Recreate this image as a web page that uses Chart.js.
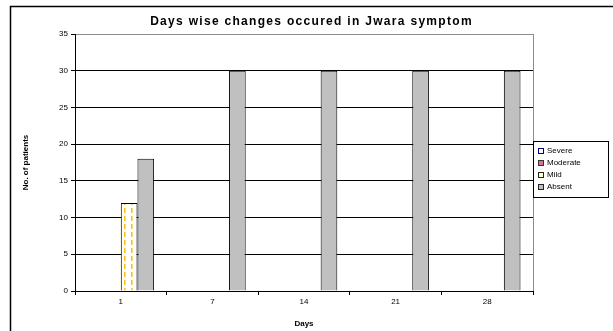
<!DOCTYPE html>
<html>
<head>
<meta charset="utf-8">
<script src="https://cdn.jsdelivr.net/npm/chart.js@4/dist/chart.umd.min.js"></script>
<style>
  html, body { margin: 0; padding: 0; background: #fff; }
  #wrap { width: 613px; height: 331px; }
</style>
</head>
<body>
<div id="wrap"><canvas id="barChart"></canvas></div>
<script>
// データ
var days = ["1", "7", "14", "21", "28"];
var severe = [0, 0, 0, 0, 0];
var moderate = [0, 0, 0, 0, 0];
var mild = [12, 0, 0, 0, 0];
var absent = [18, 30, 30, 30, 30];
var yTicks = [0, 5, 10, 15, 20, 25, 30, 35];

var FONT = "'Liberation Sans', Arial, sans-serif";

// Mild 用の黄色い破線パターン
function makeDashPattern() {
  var c = document.createElement("canvas");
  c.width = 7;
  c.height = 8;
  var g = c.getContext("2d");
  g.fillStyle = "#ffffff";
  g.fillRect(0, 0, 7, 8);
  g.fillStyle = "#f5c518";
  g.fillRect(5, 0, 1.6, 5);
  return g.createPattern(c, "repeat");
}

// 外枠・文字間隔・凡例のプラグイン
var framePlugin = {
  id: "frame",
  beforeInit: function (chart) {
    chart.ctx.letterSpacing = "0.8px";
  },
  afterLayout: function (chart) {
    // タイトルは外枠全体の中央に置く
    var tb = chart.titleBlock;
    if (tb) {
      tb.left = 10;
      tb.right = chart.width;
    }
  },
  beforeDraw: function (chart) {
    var ctx = chart.ctx;
    // タイトルだけ文字間隔を広げる
    var tb = chart.titleBlock;
    if (tb && !tb._wide) {
      var orig = tb.draw;
      tb.draw = function () {
        var old = ctx.letterSpacing;
        ctx.letterSpacing = "1.3px";
        orig.apply(this, arguments);
        ctx.letterSpacing = old;
      };
      tb._wide = true;
    }
    ctx.save();
    ctx.fillStyle = "#ffffff";
    ctx.fillRect(0, 0, chart.width, chart.height);
    ctx.strokeStyle = "#000000";
    ctx.lineWidth = 1.5;
    ctx.beginPath();
    ctx.moveTo(10.5, chart.height);
    ctx.lineTo(10.5, 6.5);
    ctx.lineTo(chart.width, 6.5);
    ctx.stroke();
    ctx.restore();
  },
  afterDraw: function (chart) {
    var ctx = chart.ctx;
    var a = chart.chartArea;
    ctx.save();
    // プロットエリアの右枠
    ctx.strokeStyle = "#8c8c8c";
    ctx.lineWidth = 1;
    ctx.beginPath();
    ctx.moveTo(Math.round(a.right) + 0.5, a.top);
    ctx.lineTo(Math.round(a.right) + 0.5, a.bottom);
    ctx.stroke();

    // 凡例
    var bx = 533.5, by = 141.5, bw = 75, bh = 56;
    ctx.strokeStyle = "#000000";
    ctx.strokeRect(bx, by, bw, bh);
    ctx.font = "8px " + FONT;
    ctx.textBaseline = "middle";
    ctx.textAlign = "left";
    chart.data.datasets.forEach(function (ds, i) {
      var y = 151 + i * 12;
      ctx.fillStyle = ds.legendFill;
      ctx.fillRect(538, y - 3, 6, 6);
      ctx.strokeStyle = ds.legendBorder;
      ctx.strokeRect(538.5, y - 2.5, 5, 5);
      ctx.fillStyle = "#000000";
      ctx.fillText(ds.label, 547, y);
    });
    ctx.restore();
  }
};

var ctx1 = document.getElementById("barChart");
var myChart = new Chart(ctx1, {
  type: "bar",
  data: {
    labels: days,
    datasets: [
      { label: "Severe", data: severe, backgroundColor: "#ffffff", borderColor: "#000000", borderWidth: 1,
        legendFill: "#ffffff", legendBorder: "#000080" },
      { label: "Moderate", data: moderate, backgroundColor: "#ff99cc", borderColor: "#000000", borderWidth: 1,
        legendFill: "#e07090", legendBorder: "#333333" },
      { label: "Mild", data: mild, backgroundColor: makeDashPattern(), borderColor: "#000000", borderWidth: 1,
        legendFill: "#ffffcc", legendBorder: "#222222" },
      { label: "Absent", data: absent, backgroundColor: "#c0c0c0", borderColor: "#000000", borderWidth: 1,
        legendFill: "#c0c0c0", legendBorder: "#222222" }
    ]
  },
  options: {
    responsive: true,
    maintainAspectRatio: false,
    animation: false,
    layout: { padding: { left: 10, right: 80, top: 0, bottom: 0 } },
    datasets: {
      bar: { categoryPercentage: 4 / 5.5, barPercentage: 1, borderSkipped: "start" }
    },
    plugins: {
      legend: { display: false },
      tooltip: { enabled: false },
      title: {
        display: true,
        text: "Days wise changes occured in Jwara symptom",
        color: "#000000",
        font: { family: FONT, size: 12, weight: "bold", lineHeight: 1 },
        padding: { top: 16, bottom: 6 }
      }
    },
    scales: {
      x: {
        afterFit: function (s) { s.height = 40; },
        grid: { drawOnChartArea: false, drawTicks: true, tickLength: 4, color: "#000000" },
        border: { color: "#000000", width: 1 },
        ticks: { color: "#000000", padding: 2, font: { family: FONT, size: 8 } },
        title: {
          display: true, text: "Days", color: "#000000",
          font: { family: FONT, size: 8, weight: "bold" },
          padding: { top: 0, bottom: 2 }
        }
      },
      y: {
        min: 0,
        max: 35,
        afterFit: function (s) { s.width = 65; },
        afterBuildTicks: function (s) { s.ticks = yTicks.map(function (v) { return { value: v }; }); },
        grid: {
          color: function (c) { return c.tick && c.tick.value === 35 ? "#8c8c8c" : "#000000"; },
          tickColor: "#000000",
          tickLength: 4
        },
        border: { color: "#000000", width: 1 },
        ticks: { color: "#000000", padding: 3, font: { family: FONT, size: 8 } },
        title: {
          display: true, text: "No. of patients", color: "#000000",
          font: { family: FONT, size: 8, weight: "bold" },
          padding: { top: 11, bottom: 0 }
        }
      }
    }
  },
  plugins: [framePlugin]
});
</script>
</body>
</html>
